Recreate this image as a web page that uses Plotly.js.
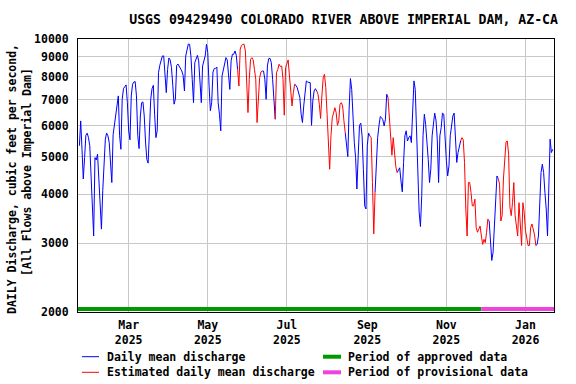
<!DOCTYPE html>
<html><head><meta charset="utf-8">
<script src="https://cdn.plot.ly/plotly-3.0.1.min.js"></script>
<style>html,body{margin:0;padding:0;background:#fff}#chart{width:576px;height:384px}</style>
</head><body><div id="chart"></div>
<script>
const firstDay = [2025, 0, 22]; // Jan 22, 2025 (UTC y, m, d)
const dailyFlow = [
5330,6170,5220,4380,4970,5670,5740,5590,5330,4420,
3890,3130,4970,4900,5070,4250,3560,3260,4090,4970,
5540,5740,5650,5430,4600,4290,5690,5990,6290,6670,
7150,5650,5220,7010,7460,7550,7630,6870,5820,5520,
7150,7660,7760,7780,7150,5670,5240,6350,6870,6900,
6350,5450,4920,4810,5650,7010,7460,7610,6420,5590,
5820,8200,8560,8840,9050,9050,7890,7290,8360,8940,
8840,8450,7610,6810,7010,8560,8630,8500,8360,8280,
8070,7360,9050,9410,9710,9690,9050,7890,6870,8700,
8870,9080,8790,7660,6870,8530,8870,9050,9690,9230,
7580,6550,6870,8230,8400,8410,8480,6870,6420,5820,
8040,8360,8670,8960,8840,7890,7430,8790,9140,9140,
9320,9080,8360,7580,9410,9630,9690,9690,9320,7580,
6480,7890,8870,8960,8840,8360,7890,6110,7150,7960,
8230,8280,8280,7890,7010,8530,8910,8920,8700,7890,
6810,6230,8200,8360,8620,8500,8530,7890,6380,8450,
8620,8840,8040,7150,6740,7290,7660,7610,7500,7290,
7080,6420,6110,6740,7360,7810,7760,7730,7730,6010,
6940,7360,7460,7360,7220,6810,6260,7150,7960,8120,
7510,6420,5120,4640,5650,6290,6460,6670,6480,6010,
6170,6810,6870,6740,6170,5760,5450,5000,6610,7920,
7430,6290,5430,4970,4130,5020,6010,6090,5650,4640,
3740,3670,5330,5740,5650,5590,4290,3170,4050,4920,
5590,5990,6330,6290,6210,5990,6230,7220,7080,6230,
5380,5040,5590,5000,4710,4550,4620,4680,4330,4060,
4830,5650,5820,5480,5590,5650,5430,6290,7810,7430,
5650,4330,3610,3310,3970,5650,6420,6050,5540,4920,
4290,4640,5650,6170,6460,6200,5520,4290,5650,5930,
6460,6420,5430,4880,4460,4730,5650,5970,6350,6460,
5760,4830,5120,5270,5480,5590,5520,4830,3670,3130,
4290,4290,4050,3740,3740,3890,3290,3200,3260,3320,
3130,2980,3070,3010,3200,3460,3420,3100,2710,2840,
3320,4090,4460,4390,4250,3420,3530,4380,5070,5450,
5480,5070,3710,3530,3810,4290,3530,3320,3130,3810,
3390,2960,3810,3600,3230,3090,2960,2960,3290,3360,
3260,3150,2960,2980,3130,3630,4550,4780,4550,4050,
3670,3130,4460,5540,5120,5220
];
const estimatedPeriods = [
  ['2025-05-25','2025-06-11'],
  ['2025-06-23','2025-07-06'],
  ['2025-07-25','2025-08-14'],
  ['2025-09-04','2025-09-06'],
  ['2025-09-18','2025-09-23'],
  ['2025-11-13','2025-12-03'],
  ['2025-12-12','2026-01-08']
];
const axisStart = '2025-01-20 22:00';
const axisEnd = '2026-01-23';
const approvedEnd = '2025-11-28';
const yTicks = [2000,3000,4000,5000,6000,7000,8000,9000,10000];
const yTickLabels = ['2000','3000','4000','5000','6000','7000','8000','9000','10000'];
const xTickDates = ['2025-03-01','2025-05-01','2025-07-01','2025-09-01','2025-11-01','2026-01-01'];
const xTickLabels = ['Mar<br>2025','May<br>2025','Jul<br>2025','Sep<br>2025','Nov<br>2025','Jan<br>2026'];
const legendLabels = ['Daily mean discharge','Estimated daily mean discharge','Period of approved data','Period of provisional data'];
const titleText = 'USGS 09429490 COLORADO RIVER ABOVE IMPERIAL DAM, AZ-CA';
const yTitle = 'DAILY Discharge, cubic feet per second,\u00A0<br>\u00A0[All Flows above Imperial Dam]\u00A0';

// ---- build traces ----
const dates = dailyFlow.map((v, i) => new Date(Date.UTC(firstDay[0], firstDay[1], firstDay[2] + i)).toISOString().slice(0, 10));
const isEst = dates.map(d => estimatedPeriods.some(([a, b]) => d >= a && d <= b));
const blueY = dailyFlow.map((v, i) => isEst[i] ? null : v);
const redY = dailyFlow.map((v, i) => (isEst[i] || isEst[i - 1] || isEst[i + 1]) ? v : null);
const barLevel = 2035;

const FONT = 'DejaVu Sans Mono, monospace';
const traces = [
  {x: dates, y: blueY, type: 'scatter', mode: 'lines', line: {color: '#0000ff', width: 1}, name: legendLabels[0]},
  {x: dates, y: redY, type: 'scatter', mode: 'lines', line: {color: '#ff0000', width: 1}, name: legendLabels[1]},
  {x: [axisStart, approvedEnd], y: [barLevel, barLevel], type: 'scatter', mode: 'lines', line: {color: '#009900', width: 4}, name: legendLabels[2]},
  {x: [approvedEnd, axisEnd], y: [barLevel, barLevel], type: 'scatter', mode: 'lines', line: {color: '#ee44dd', width: 4}, name: legendLabels[3]}
];

// plot box in pixels: left 78, right 554, top 39, bottom 312
const L = 78, R = 554, T = 39, B = 312;
const px = x => (x - L) / (R - L);
const py = y => (B - y) / (B - T);
const legendRows = [356.7, 372.3];
const legendCols = [{s: 82, e: 99, t: 105}, {s: 323, e: 341, t: 346}];
const legendColors = ['#0000ff', '#ff0000', '#009900', '#ee44dd'];
const legendWidths = [1, 1, 4, 4];
const shapes = [], annotations = [];
[[0, 0], [0, 1], [1, 0], [1, 1]].forEach(([c, r], k) => {
  const col = legendCols[c];
  shapes.push({type: 'line', xref: 'paper', yref: 'paper', x0: px(col.s), x1: px(col.e), y0: py(legendRows[r]), y1: py(legendRows[r]), line: {color: legendColors[k], width: legendWidths[k]}});
  annotations.push({xref: 'paper', yref: 'paper', x: px(col.t), y: py(legendRows[r]), xanchor: 'left', yanchor: 'middle', showarrow: false, text: legendLabels[k], font: {family: FONT, size: 11.5, color: '#000', weight: 'bold'}});
});

const tickFont = {family: FONT, size: 11.5, color: '#000', weight: 'bold'};
const layout = {
  width: 576, height: 384,
  margin: {l: L, r: 576 - R, t: T, b: 384 - B},
  paper_bgcolor: '#ffffff', plot_bgcolor: '#ffffff',
  showlegend: false,
  title: {text: titleText, font: {family: FONT, size: 13.2, color: '#000', weight: 'bold'}, x: 0.558, xref: 'paper', xanchor: 'center', y: 1 - 19 / 384, yref: 'container', yanchor: 'middle'},
  xaxis: {type: 'date', range: [axisStart, axisEnd], tickmode: 'array', tickvals: xTickDates, ticktext: xTickLabels,
    showgrid: true, gridcolor: '#c8c8c8', gridwidth: 1, showline: true, linecolor: '#000', linewidth: 1, mirror: true,
    ticks: '', ticklabelstandoff: 2, tickfont: tickFont, zeroline: false, fixedrange: true, automargin: false},
  yaxis: {type: 'log', range: [Math.log10(2000), 4], tickmode: 'array', tickvals: yTicks, ticktext: yTickLabels,
    showgrid: true, gridcolor: '#c8c8c8', gridwidth: 1, showline: true, linecolor: '#000', linewidth: 1, mirror: true,
    ticks: '', ticklabelstandoff: 6, tickfont: tickFont, zeroline: false, fixedrange: true, automargin: false,
    title: {text: yTitle, font: {family: FONT, size: 11.5, color: '#000', weight: 'bold'}, standoff: 0}},
  shapes: shapes,
  annotations: annotations
};
Plotly.newPlot('chart', traces, layout, {displayModeBar: false, staticPlot: true});
</script>
</body></html>
